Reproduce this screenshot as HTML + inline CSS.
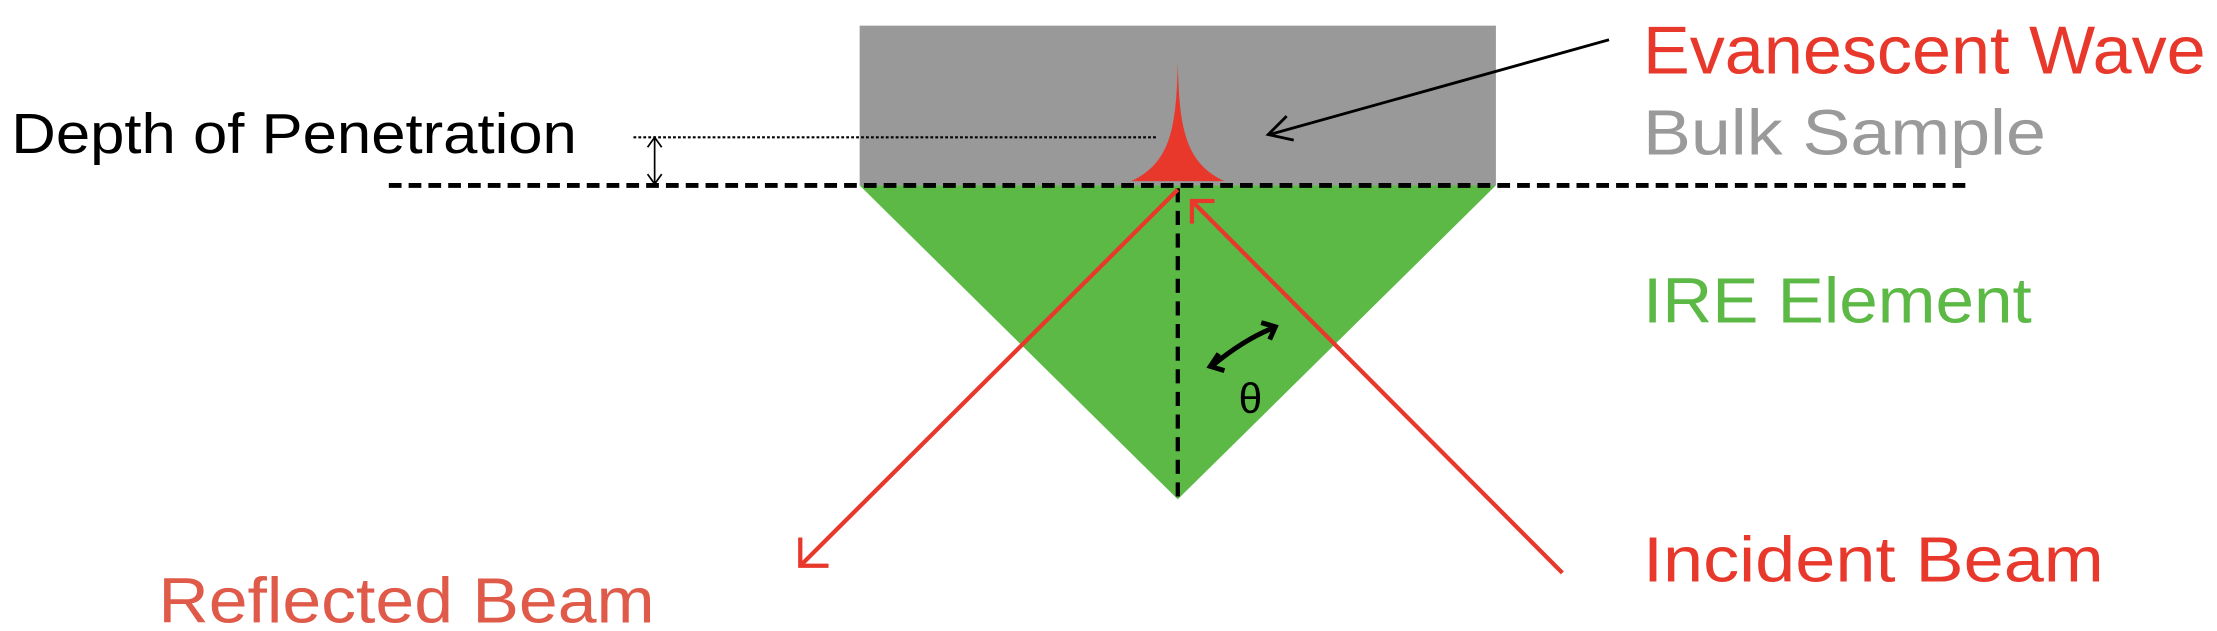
<!DOCTYPE html>
<html><head><meta charset="utf-8"><style>html,body{margin:0;padding:0;background:#fff;overflow:hidden}svg{display:block}</style></head>
<body>
<svg width="2217" height="631" viewBox="0 0 1568 446" xmlns="http://www.w3.org/2000/svg" font-family="Liberation Sans, sans-serif">
<rect x="608" y="18" width="450" height="113" fill="#999"/>
<polygon points="608,131 1058,131 833,353" fill="#5cb946"/>
<line x1="275" y1="131" x2="1392" y2="131" stroke="#000" stroke-width="3.5" stroke-dasharray="9,5"/>
<line x1="833" y1="133" x2="833" y2="353" stroke="#000" stroke-width="3" stroke-dasharray="10,6"/>
<path d="M833,44 C834,90 838,115 866,128 L800,128 C828,115 832,90 833,44 Z" fill="#e8382c"/>
<line x1="448" y1="97" x2="818" y2="97" stroke="#000" stroke-width="1.5" stroke-dasharray="2,1.5"/>
<line x1="463" y1="98" x2="463" y2="129" stroke="#000" stroke-width="1.2"/>
<path d="M458,104 L463,97 L468,104 M458,123 L463,130 L468,123" fill="none" stroke="#000" stroke-width="1.2"/>
<line x1="1138" y1="28" x2="898" y2="95" stroke="#000" stroke-width="2"/>
<path d="M910,82 L897,95 L915,99" fill="none" stroke="#000" stroke-width="2"/>
<line x1="833" y1="134" x2="566" y2="400" stroke="#e8382c" stroke-width="3"/>
<path d="M566,380 L566,400 L586,400" fill="none" stroke="#e8382c" stroke-width="3"/>
<line x1="1105" y1="405" x2="843" y2="142" stroke="#e8382c" stroke-width="3"/>
<path d="M843,158 L843,142 L859,142" fill="none" stroke="#e8382c" stroke-width="3"/>
<path d="M858,258 Q880,240 900,232" fill="none" stroke="#000" stroke-width="3.5"/>
<path d="M862,250 L856,259 L866,262 M892,228 L902,231 L898,240" fill="none" stroke="#000" stroke-width="3.5"/>
<text x="876" y="292" font-size="30" fill="#000">θ</text>
<text x="8" y="108" font-size="40" fill="#000" textLength="400" lengthAdjust="spacingAndGlyphs">Depth of Penetration</text>
<text x="1162" y="52" font-size="48" fill="#e8382c" textLength="398" lengthAdjust="spacingAndGlyphs">Evanescent Wave</text>
<text x="1162" y="109" font-size="45" fill="#9a9a9a" textLength="285" lengthAdjust="spacingAndGlyphs">Bulk Sample</text>
<text x="1162" y="228" font-size="45" fill="#5cb946" textLength="275" lengthAdjust="spacingAndGlyphs">IRE Element</text>
<text x="1162" y="411" font-size="45" fill="#e8382c" textLength="326" lengthAdjust="spacingAndGlyphs">Incident Beam</text>
<text x="112" y="440" font-size="45" fill="#e05a4a" textLength="351" lengthAdjust="spacingAndGlyphs">Reflected Beam</text>
</svg>
</body></html>
